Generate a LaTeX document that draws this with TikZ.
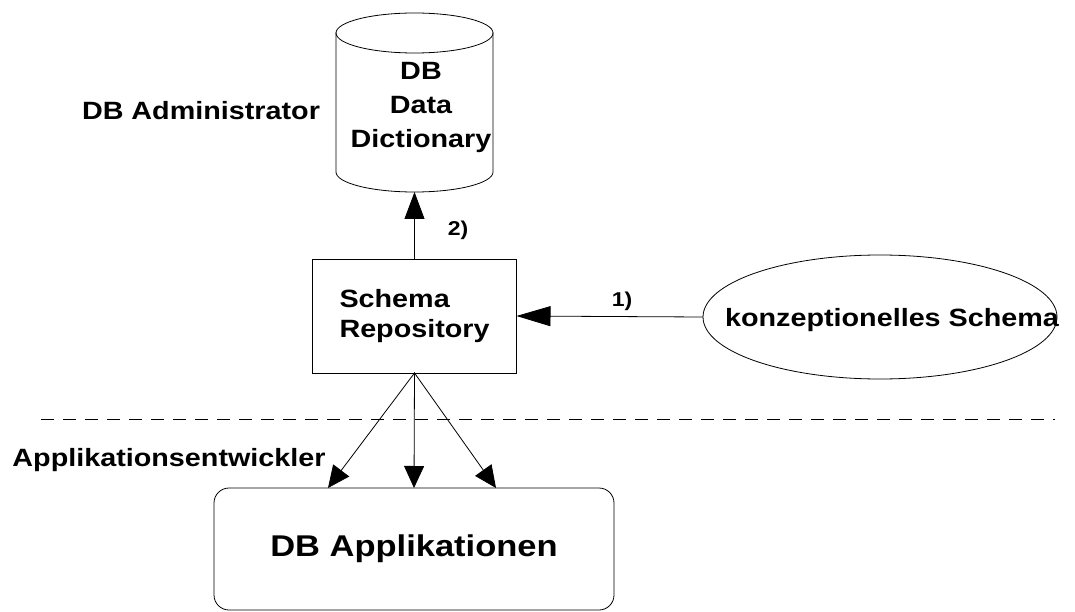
\documentclass[tikz,border=0pt]{standalone}
\usepackage{fontspec}
\newfontfamily\diafont[FakeStretch=1.15]{Liberation Sans}
\usepackage{tikz}
\usetikzlibrary{shapes.geometric}
\usetikzlibrary{arrows.meta}

\begin{document}
\begin{tikzpicture}[x=1pt,y=-1pt,line cap=rect,
	pfeil/.style={line width=0.8pt, custcol_0_0_0, -{Triangle[length=#1,width=20pt]}},
	pfeil/.default=22pt,
	txt/.style={inner sep=0, outer sep=0, custcol_0_0_0, font=\diafont\fontsize{25pt}{30pt}\fontseries{bx}\selectfont},
	txtklein/.style={txt, font=\diafont\fontsize{20pt}{20pt}\fontseries{bx}\selectfont},
	rahmen/.style={draw=custcol_0_0_0, line width=0.8pt}]
				\definecolor{custcol_0_0_0}{RGB}{0, 0, 0}
				\definecolor{custcol_ff_ff_ff}{RGB}{255, 255, 255}
				\useasboundingbox [fill=custcol_ff_ff_ff] (0,0) rectangle (1075,612);
				\node[inner sep=0, outer sep=0, minimum width=157pt, minimum height=179pt] (dict) at (414.5,102.5) {};
				\draw [rahmen]  ([yshift=-20pt]dict.north) ellipse [x radius=78.5pt, y radius=20pt];
				\draw [rahmen]  ([yshift=-20pt]dict.north west) -- ([yshift=20pt]dict.south west) arc [start angle=180, end angle=360, x radius=78.5pt, y radius=20pt] -- ([yshift=-20pt]dict.north east);
				\node[txt, align=center, anchor=base, font=\diafont\fontsize{25pt}{34pt}\fontseries{bx}\selectfont] (dicttxt) at (421,148) {DB\\Data\\Dictionary};
				\node[txt, rahmen, align=left, text width=150pt, inner xsep=27pt, minimum height=114pt] (repo) at (414.5,316) {Schema\\Repository};
				\node[rahmen, ellipse, inner sep=0, minimum width=354pt, minimum height=124pt] (konz) at (880,317) {};
				\node[txt, anchor=base] (konztxt) at (892,326) {konzeptionelles Schema};
				\node[txt, rahmen, rounded corners=15pt, minimum width=400pt, minimum height=122pt, font=\diafont\fontsize{30pt}{30pt}\fontseries{bx}\selectfont] (app) at (414,549) {DB Applikationen};
				\node[txt, anchor=base] (admin) at (201,119.5) {DB Administrator};
				\node[txt, anchor=base] (entw) at (169,466.5) {Applikationsentwickler};
				\node[txtklein, anchor=base] (nr2) at (458,236) {2)};
				\node[txtklein, anchor=base] (nr1) at (622,306) {1)};
				\coordinate (trennL) at (41,419);
				\coordinate (trennR) at (1055,419);
				\draw [line width=0.8pt, line cap=butt, custcol_0_0_0, dash pattern=on 13pt off 9pt]  (trennL) -- (trennR) ; % Trennlinie DBA / Entwickler
				\draw [pfeil=27pt]  (repo.north) -- (dict.south) ;
				\draw [pfeil=34pt]  (konz.west) -- (repo.east) ;
				\draw [pfeil]  (repo.south) -- ([xshift=-86pt]app.north) ;
				\draw [pfeil]  (repo.south) -- (app.north) ;
				\draw [pfeil]  (repo.south) -- ([xshift=82pt]app.north) ;
			\end{tikzpicture}
\end{document}
